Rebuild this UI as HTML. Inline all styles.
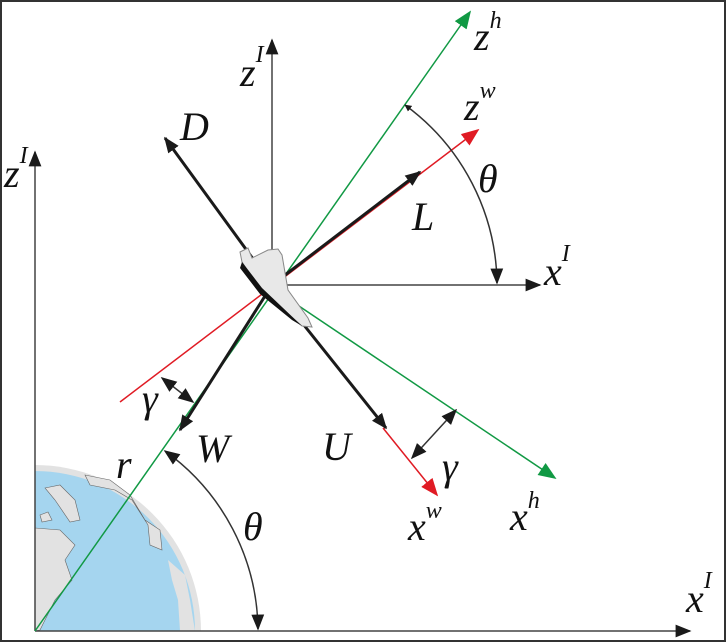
<!DOCTYPE html>
<html><head><meta charset="utf-8"><style>
html,body{margin:0;padding:0;background:#fff;width:726px;height:642px;overflow:hidden}
svg{display:block;overflow:hidden}
text{font-family:"Liberation Serif",serif;font-style:italic;fill:#111}
</style></head><body>
<svg width="726" height="642" viewBox="0 0 726 642" overflow="hidden">
<defs>
<marker id="ak" viewBox="0 0 10 10" refX="9" refY="5" markerWidth="7" markerHeight="7" markerUnits="userSpaceOnUse" orient="auto-start-reverse"><path d="M0,0L10,5L0,10z" fill="#1a1a1a"/></marker>
<marker id="akL" viewBox="0 0 10 10" refX="9" refY="5" markerWidth="16" markerHeight="16" markerUnits="userSpaceOnUse" orient="auto-start-reverse"><path d="M0,1L10,5L0,9z" fill="#1a1a1a"/></marker>
<marker id="ag" viewBox="0 0 10 10" refX="9" refY="5" markerWidth="18" markerHeight="18" markerUnits="userSpaceOnUse" orient="auto"><path d="M0,1L10,5L0,9z" fill="#119944"/></marker>
<marker id="ar" viewBox="0 0 10 10" refX="9" refY="5" markerWidth="18" markerHeight="18" markerUnits="userSpaceOnUse" orient="auto"><path d="M0,1L10,5L0,9z" fill="#e01b24"/></marker>
<clipPath id="q"><rect x="35" y="400" width="300" height="231"/></clipPath>
</defs>
<rect x="1" y="1" width="724" height="640" fill="#fff" stroke="#333" stroke-width="2"/>
<g clip-path="url(#q)">
<path d="M35,631 L35,465 A166,166 0 0 1 201,631 Z" fill="#e2e2e2"/>
<path d="M35,631 L35,471 A160,160 0 0 1 195,631 Z" fill="#a5d5ef"/>
<path d="M35,528 L60,530 L75,545 L65,560 L72,580 L55,600 L40,630 L35,631Z" fill="#e2e2e2" stroke="#666" stroke-width="0.6"/>
<path d="M45,488 L60,485 L75,500 L80,520 L70,522 L55,500Z" fill="#e2e2e2" stroke="#666" stroke-width="0.6"/>
<path d="M40,515 L48,512 L52,520 L42,522Z" fill="#e2e2e2" stroke="#666" stroke-width="0.6"/>
<path d="M85,475 L110,480 L130,495 L145,520 L160,530 L162,550 L150,545 L148,525 L132,500 L115,490 L90,485Z" fill="#e2e2e2" stroke="#666" stroke-width="0.6"/>
<path d="M168,560 L185,575 L190,600 L195,631 L180,631 L178,600 L172,580Z" fill="#e2e2e2"/>
</g>
<line x1="35" y1="631" x2="35" y2="152" stroke="#444" stroke-width="1.5" marker-end="url(#akL)"/>
<line x1="35" y1="631" x2="690" y2="631" stroke="#444" stroke-width="1.5" marker-end="url(#akL)"/>
<line x1="35" y1="631" x2="470" y2="12" stroke="#119944" stroke-width="1.5" marker-end="url(#ag)"/>
<line x1="290" y1="300" x2="555" y2="478" stroke="#119944" stroke-width="1.5" marker-end="url(#ag)"/>
<line x1="120" y1="402" x2="478" y2="130" stroke="#e01b24" stroke-width="1.5" marker-end="url(#ar)"/>
<line x1="383" y1="428" x2="437" y2="495" stroke="#e01b24" stroke-width="1.5" marker-end="url(#ar)"/>
<line x1="272" y1="285" x2="272" y2="40" stroke="#444" stroke-width="1.5" marker-end="url(#akL)"/>
<line x1="272" y1="285" x2="540" y2="285" stroke="#444" stroke-width="1.5" marker-end="url(#akL)"/>
<g stroke="#1a1a1a" stroke-width="3">
<line x1="272" y1="285" x2="420" y2="172" marker-end="url(#akL)"/>
<line x1="272" y1="285" x2="165" y2="138" marker-end="url(#akL)"/>
<line x1="272" y1="285" x2="180" y2="430" marker-end="url(#akL)"/>
<line x1="272" y1="285" x2="386" y2="428" marker-end="url(#akL)"/>
</g>
<g>
<path d="M240,252 L248,248 L252,258 L268,250 L278,249 L282,255 L288,290 L308,318 L312,327 L302,326 L262,292 L242,262Z" fill="#e8e8e8" stroke="#888" stroke-width="1"/>
<path d="M242,262 L262,288 L302,326 L292,320 L260,294 L240,268Z" fill="#111"/>
</g>
<path d="M405,105 A224,224 0 0 1 497,283" fill="none" stroke="#333" stroke-width="1.5" marker-start="url(#ak)" marker-end="url(#akL)"/>
<path d="M165,451 A223,223 0 0 1 258,629" fill="none" stroke="#333" stroke-width="1.5" marker-start="url(#akL)" marker-end="url(#akL)"/>
<line x1="162" y1="378" x2="193" y2="402" stroke="#333" stroke-width="1.5" marker-start="url(#akL)" marker-end="url(#akL)"/>
<line x1="412" y1="458" x2="456" y2="410" stroke="#333" stroke-width="1.5" marker-start="url(#akL)" marker-end="url(#akL)"/>
<g font-size="40">
<text x="240" y="86">z<tspan font-size="24" dy="-24">I</tspan></text>
<text x="180" y="140">D</text>
<text x="474" y="50">z<tspan font-size="24" dy="-22">h</tspan></text>
<text x="464" y="120">z<tspan font-size="24" dy="-22">w</tspan></text>
<text x="478" y="192">θ</text>
<text x="412" y="230">L</text>
<text x="544" y="285">x<tspan font-size="24" dy="-24">I</tspan></text>
<text x="4" y="187">z<tspan font-size="24" dy="-24">I</tspan></text>
<text x="142" y="412">γ</text>
<text x="116" y="478">r</text>
<text x="196" y="462">W</text>
<text x="322" y="460">U</text>
<text x="442" y="480">γ</text>
<text x="408" y="540">x<tspan font-size="24" dy="-22">w</tspan></text>
<text x="510" y="530">x<tspan font-size="24" dy="-22">h</tspan></text>
<text x="243" y="540">θ</text>
<text x="686" y="612">x<tspan font-size="24" dy="-24">I</tspan></text>
</g>
</svg>
</body></html>
